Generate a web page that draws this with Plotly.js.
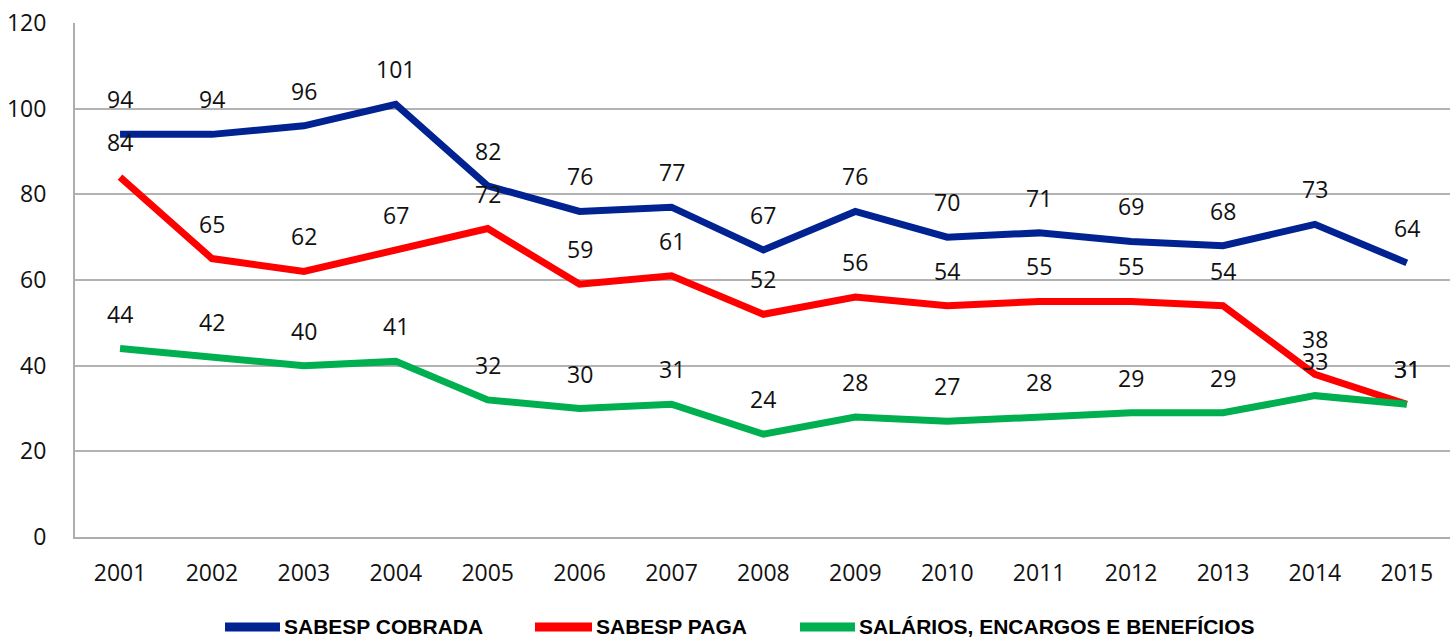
<!DOCTYPE html>
<html><head><meta charset="utf-8">
<script src="https://cdn.plot.ly/plotly-3.0.1.min.js"></script>
<style>html,body{margin:0;padding:0;background:#fff}#chart{width:1450px;height:639px}</style>
</head><body><div id="chart"></div>
<script>
const years = ["2001","2002","2003","2004","2005","2006","2007","2008","2009","2010","2011","2012","2013","2014","2015"];
const sabespCobrada = [94,94,96,101,82,76,77,67,76,70,71,69,68,73,64];
const sabespPaga = [84,65,62,67,72,59,61,52,56,54,55,55,54,38,31];
const salarios = [44,42,40,41,32,30,31,24,28,27,28,29,29,33,31];
const seriesNames = ["SABESP COBRADA","SABESP PAGA","SALÁRIOS, ENCARGOS E BENEFÍCIOS"];
const yTicks = [0,20,40,60,80,100,120];

const colors = ["#002391","#FF0000","#00B050"];
const allSeries = [sabespCobrada, sabespPaga, salarios];

const traces = allSeries.map((vals, i) => ({
  type: "scatter", mode: "lines", x: years, y: vals, name: seriesNames[i],
  line: {color: colors[i], width: 7}, hoverinfo: "skip", showlegend: false
}));

const labelFont = {family: "Open Sans, sans-serif", size: 23, color: "#111"};
const annotations = [];
allSeries.forEach((vals) => {
  vals.forEach((v, j) => {
    annotations.push({x: j, y: v, xref: "x", yref: "y", text: String(v),
      showarrow: false, yshift: 35, yanchor: "middle", xanchor: "center",
      font: labelFont});
  });
});

// manual legend (pixel positions converted to paper fractions)
const plotL = 75, plotW = 1375, plotB = 537, plotH = 514.5;
const legY = (plotB - 627) / plotH;
const legSym = [[225, 280], [535, 592], [800, 855]];
const shapes = [];
legSym.forEach((s, i) => {
  shapes.push({type: "line", xref: "paper", yref: "paper",
    x0: (s[0] - plotL) / plotW, x1: (s[1] - plotL) / plotW, y0: legY, y1: legY,
    line: {color: colors[i], width: 9}});
  annotations.push({xref: "paper", yref: "paper", x: (s[1] + 2 - plotL) / plotW, y: legY,
    xanchor: "left", yanchor: "middle", showarrow: false, text: "<b>" + seriesNames[i] + "</b>",
    font: {family: "Liberation Sans Narrow, Liberation Sans, sans-serif", size: 21, color: "#000"}});
});

const layout = {
  width: 1450, height: 639,
  margin: {l: 75, r: 0, t: 22.5, b: 102},
  paper_bgcolor: "#fff", plot_bgcolor: "#fff",
  showlegend: false,
  xaxis: {type: "category", range: [-0.49, 14.47], showgrid: false, zeroline: false,
    showline: true, linecolor: "#ADADAD", linewidth: 2, ticks: "",
    ticklabelstandoff: 14,
    tickfont: {family: "Open Sans, sans-serif", size: 23, color: "#111"}},
  yaxis: {range: [0, 120], tickvals: yTicks, showgrid: true, gridcolor: "#B3B3B3", gridwidth: 2,
    zeroline: false, showline: true, linecolor: "#ADADAD", linewidth: 2, ticks: "",
    ticklabelstandoff: 22,
    tickfont: {family: "Open Sans, sans-serif", size: 23, color: "#111"}},
  annotations: annotations,
  shapes: shapes
};

Plotly.newPlot("chart", traces, layout, {displayModeBar: false});
</script>
</body></html>
